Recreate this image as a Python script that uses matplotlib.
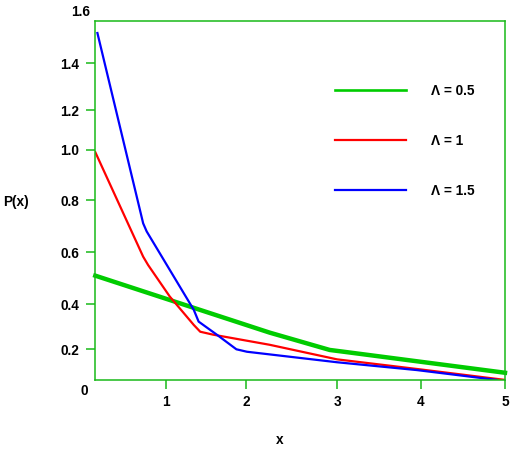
import numpy as np
from matplotlib import pyplot as plt

# curve values
x_g = [0.0, 2.26, 2.92, 3.06, 5.0]
y_g = [0.51, 0.274, 0.197, 0.19, 0.095]

x_r = [0.0, 0.68, 0.75, 1.05, 1.35, 1.43, 1.59, 2.26, 3.0, 3.95, 5.0]
y_r = [0.99, 0.583, 0.551, 0.43, 0.308, 0.278, 0.265, 0.22, 0.155, 0.112, 0.063]

x_b = [0.03, 0.68, 0.73, 1.35, 1.41, 1.64, 1.88, 2.01, 3.0, 3.95, 4.9]
y_b = [1.52, 0.711, 0.68, 0.375, 0.323, 0.264, 0.20, 0.189, 0.142, 0.107, 0.063]

labels = ['Λ = 0.5', 'Λ = 1', 'Λ = 1.5']
xticks = [1, 2, 3, 4, 5]
yticks = [0.2, 0.4, 0.6, 0.8, 1.0, 1.2, 1.4]

# the original axes are not evenly spaced: piecewise-linear scales
xd = [-1, 0, 1, 2, 3, 4, 5, 6]
xp = [25.0, 95.3, 165.7, 246, 337, 421, 505, 589]
yd = [-1, 0, 0.2, 0.4, 0.6, 0.8, 1.0, 1.2, 1.4, 1.6, 3]
yp = [617, 394, 349.3, 304.3, 252.3, 200.3, 149.7, 110.3, 63.3, 13, -339]
ypn = [-v for v in yp]

def fx(v):
    return np.interp(v, xd, xp)

def fx_inv(v):
    return np.interp(v, xp, xd)

def fy(v):
    return np.interp(v, yd, ypn)

def fy_inv(v):
    return np.interp(v, ypn, yd)


GREEN = '#00cc00'
AXG = '#19b919'
FS = 9.8
plt.rcParams['font.family'] = ['Liberation Sans', 'DejaVu Sans']
plt.rcParams['font.weight'] = 'bold'

fig = plt.figure(figsize=(5.21, 4.51), dpi=100)
ax = fig.add_axes([95.3/521, 1-380/451, (505-95.3)/521, (380-20.7)/451])
ax.set_xscale('function', functions=(fx, fx_inv))
ax.set_yscale('function', functions=(fy, fy_inv))
ax.set_xlim(0, 5)
ax.set_ylim(0.0626, 1.569)

ax.plot(x_g, y_g, color=GREEN, lw=3.2, label=labels[0], clip_on=False,
        solid_capstyle='projecting')
ax.plot(x_r, y_r, color='#ff0000', lw=1.6, label=labels[1])
ax.plot(x_b, y_b, color='#0000ff', lw=1.6, label=labels[2])

for s in ax.spines.values():
    s.set_color(AXG)
    s.set_linewidth(1.1)
ax.set_xticks(xticks)
ax.set_xticklabels([str(t) for t in xticks])
ax.set_yticks(yticks)
ax.set_yticklabels(['%.1f' % t for t in yticks])
ax.minorticks_off()
ax.tick_params(axis='both', color=AXG, length=6.5, width=1.1, labelsize=FS)
ax.tick_params(axis='y', pad=5)
ax.tick_params(axis='x', pad=4.5)

ax.text(-0.037, 1.024, '1.6', transform=ax.transAxes, ha='center', va='center',
        fontsize=FS, fontweight='bold')
ax.text(-0.026, -0.03, '0', transform=ax.transAxes, ha='center', va='center',
        fontsize=FS, fontweight='bold')

ax.set_xlabel('x', fontsize=FS, fontweight='bold')
ax.xaxis.set_label_coords(0.451, -0.167)
ax.xaxis.label.set_va('center')
ax.set_ylabel('P(x)', fontsize=FS, fontweight='bold', rotation=0,
              ha='center', va='center')
ax.yaxis.set_label_coords(-0.1936, 0.4954)

leg = ax.legend(loc='upper left', bbox_to_anchor=(335/521, 1-84/451),
                bbox_transform=fig.transFigure, frameon=False, fontsize=FS,
                handlelength=5.2, handletextpad=1.85, labelspacing=2.63,
                borderpad=0, borderaxespad=0)
leg.get_lines()[0].set_linewidth(1.9)

fig.savefig('out.png', dpi=100)
